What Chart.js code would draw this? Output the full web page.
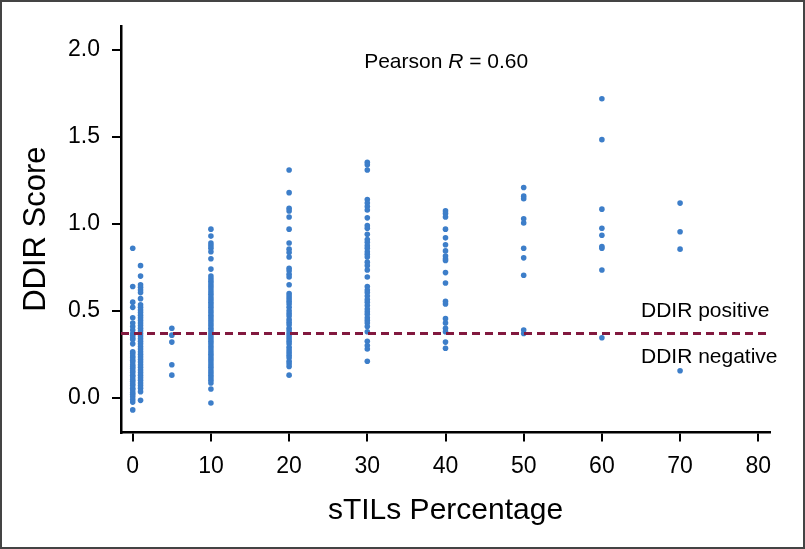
<!DOCTYPE html>
<html>
<head>
<meta charset="utf-8">
<script src="https://cdn.jsdelivr.net/npm/chart.js@4.4.0/dist/chart.umd.min.js"></script>
<style>
  html, body { margin: 0; padding: 0; background: #fff; }
  canvas { display: block; }
</style>
</head>
<body>
<canvas id="chart" width="805" height="549"></canvas>
<script>
// sTILs percentage groups and DDIR scores
const stils0 = [0.86, 0.64, 0.55, 0.52, 0.46, 0.43, 0.41, 0.39, 0.37, 0.36, 0.345, 0.335, 0.31,
  0.265, 0.255, 0.24, 0.23, 0.215, 0.205, 0.19, 0.18, 0.17, 0.155, 0.145, 0.13, 0.12, 0.105, 0.095,
  0.08, 0.07, 0.055, 0.045, 0.03, 0.02, 0.005, -0.01, -0.025, -0.07];
const stils1 = [0.76, 0.70, 0.65, 0.635, 0.62, 0.605, 0.57, 0.535, 0.52, 0.505, 0.49, 0.475, 0.46,
  0.445, 0.43, 0.415, 0.40, 0.385, 0.37, 0.355, 0.34, 0.325, 0.31, 0.295, 0.28, 0.265, 0.25, 0.235,
  0.22, 0.205, 0.19, 0.175, 0.16, 0.145, 0.13, 0.115, 0.10, 0.085, 0.07, 0.055, 0.035, -0.015];
const stils5 = [0.40, 0.36, 0.32, 0.19, 0.13];
const stils10 = [0.97, 0.93, 0.89, 0.875, 0.86, 0.84, 0.80, 0.74, 0.70, 0.685, 0.67, 0.655, 0.64,
  0.625, 0.61, 0.595, 0.58, 0.565, 0.55, 0.535, 0.52, 0.505, 0.49, 0.475, 0.46, 0.445, 0.43, 0.415,
  0.40, 0.385, 0.37, 0.355, 0.34, 0.325, 0.31, 0.295, 0.28, 0.265, 0.25, 0.235, 0.22, 0.205, 0.19,
  0.175, 0.16, 0.145, 0.13, 0.115, 0.10, 0.085, 0.05, -0.03];
const stils20 = [1.31, 1.18, 1.09, 1.075, 1.04, 0.97, 0.89, 0.855, 0.835, 0.81, 0.745, 0.73, 0.71,
  0.695, 0.65, 0.60, 0.585, 0.57, 0.555, 0.54, 0.52, 0.50, 0.485, 0.47, 0.45, 0.435, 0.42, 0.40,
  0.385, 0.37, 0.355, 0.34, 0.325, 0.31, 0.29, 0.275, 0.26, 0.245, 0.23, 0.21, 0.195, 0.18, 0.13];
const stils30 = [1.355, 1.34, 1.31, 1.14, 1.12, 1.10, 1.08, 1.035, 0.99, 0.975, 0.94, 0.91, 0.895,
  0.875, 0.86, 0.84, 0.825, 0.81, 0.78, 0.76, 0.735, 0.695, 0.64, 0.62, 0.605, 0.585, 0.565, 0.55,
  0.53, 0.51, 0.495, 0.48, 0.46, 0.445, 0.43, 0.41, 0.38, 0.325, 0.30, 0.28, 0.21];
const stils40 = [1.075, 1.06, 1.04, 0.97, 0.92, 0.88, 0.845, 0.815, 0.80, 0.79, 0.72, 0.66, 0.555,
  0.54, 0.455, 0.43, 0.40, 0.38, 0.32, 0.285];
const stils50 = [1.21, 1.16, 1.145, 1.03, 1.005, 0.86, 0.805, 0.705, 0.39, 0.37];
const stils60 = [1.72, 1.485, 1.085, 0.975, 0.935, 0.87, 0.86, 0.735, 0.345];
const stils70 = [1.12, 0.955, 0.855, 0.155];

const groupX = [0, 1, 5, 10, 20, 30, 40, 50, 60, 70];
const groupScores = [stils0, stils1, stils5, stils10, stils20, stils30, stils40, stils50, stils60, stils70];

const cutoff = 0.37;
const xTicks = [0, 10, 20, 30, 40, 50, 60, 70, 80];
const yTicks = [0, 0.5, 1.0, 1.5, 2.0];

const points = [];
groupX.forEach((gx, i) => {
  groupScores[i].forEach(v => points.push({ x: gx, y: v }));
});

const FONT = "'Liberation Sans', Arial, sans-serif";

// texto sobre el gráfico, borde de la figura
const notes = {
  id: 'notes',
  beforeDraw(chart) {
    const c = chart.ctx;
    c.save();
    c.fillStyle = '#fff';
    c.fillRect(0, 0, chart.width, chart.height);
    c.restore();
  },
  afterDraw(chart) {
    const c = chart.ctx;
    const sx = chart.scales.x, sy = chart.scales.y;
    c.save();
    c.fillStyle = '#000';
    c.textBaseline = 'middle';
    c.textAlign = 'left';

    // Pearson R = 0.60 (R en cursiva)
    let px = sx.getPixelForValue(29.6);
    const py = sy.getPixelForValue(1.93);
    c.font = '21px ' + FONT;
    c.fillText('Pearson ', px, py);
    px += c.measureText('Pearson ').width;
    c.font = 'italic 21px ' + FONT;
    c.fillText('R', px, py);
    px += c.measureText('R').width;
    c.font = '21px ' + FONT;
    c.fillText(' = 0.60', px, py);

    c.font = '21px ' + FONT;
    c.fillText('DDIR positive', sx.getPixelForValue(65), sy.getPixelForValue(0.50));
    c.fillText('DDIR negative', sx.getPixelForValue(65), sy.getPixelForValue(0.235));

    c.strokeStyle = '#444';
    c.lineWidth = 2;
    c.strokeRect(1, 1, chart.width - 2, chart.height - 2);
    c.restore();
  }
};

new Chart(document.getElementById('chart'), {
  type: 'scatter',
  data: {
    datasets: [
      {
        label: 'cutoff',
        type: 'line',
        data: [{ x: -1.5, y: cutoff }, { x: 81.5, y: cutoff }],
        borderColor: '#82193f',
        borderWidth: 3,
        borderDash: [8, 5],
        pointRadius: 0,
        fill: false,
        order: 0
      },
      {
        label: 'DDIR',
        data: points,
        backgroundColor: '#3d7ec9',
        borderWidth: 0,
        pointRadius: 2.8,
        order: 1
      }
    ]
  },
  options: {
    responsive: false,
    animation: false,
    devicePixelRatio: 1,
    layout: { padding: { left: 0, top: 25, right: 35, bottom: 0 } },
    plugins: { legend: { display: false }, tooltip: { enabled: false } },
    scales: {
      x: {
        type: 'linear',
        min: -1.5,
        max: 81.5,
        afterFit: s => { s.height = 116.5; },
        afterBuildTicks: s => { s.ticks = xTicks.map(v => ({ value: v })); },
        grid: { drawOnChartArea: false, color: '#000', lineWidth: 2, tickLength: 9 },
        border: { color: '#000', width: 2.5 },
        ticks: { color: '#000', padding: 11, font: { family: FONT, size: 23 } },
        title: {
          display: true,
          text: 'sTILs Percentage',
          color: '#000',
          font: { family: FONT, size: 30 },
          padding: { top: 0, bottom: 20 }
        }
      },
      y: {
        type: 'linear',
        min: -0.2,
        max: 2.14,
        afterFit: s => { s.width = 121; },
        afterBuildTicks: s => { s.ticks = yTicks.map(v => ({ value: v })); },
        grid: { drawOnChartArea: false, color: '#000', lineWidth: 2, tickLength: 9 },
        border: { color: '#000', width: 2.5 },
        ticks: {
          color: '#000',
          padding: 12,
          font: { family: FONT, size: 23 },
          callback: v => v.toFixed(1)
        },
        title: {
          display: true,
          text: 'DDIR Score',
          color: '#000',
          font: { family: FONT, size: 31 },
          padding: { top: 18, bottom: 0 }
        }
      }
    }
  },
  plugins: [notes]
});
</script>
</body>
</html>
